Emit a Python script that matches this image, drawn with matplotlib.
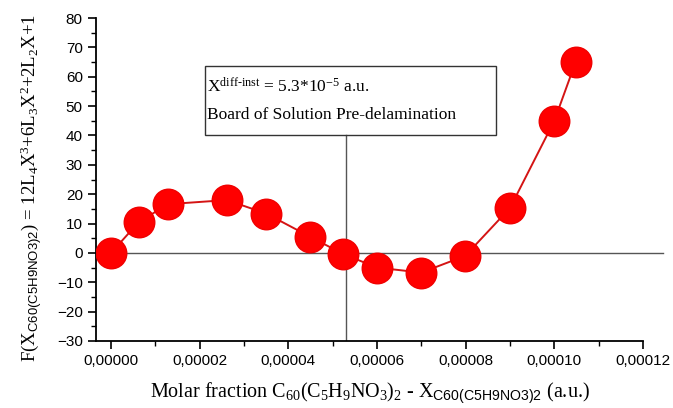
import matplotlib.pyplot as plt
from matplotlib.patches import Rectangle
from matplotlib.ticker import MultipleLocator, FuncFormatter

plt.rcParams['mathtext.fontset'] = 'custom'
plt.rcParams['mathtext.rm'] = 'Liberation Serif'
plt.rcParams['mathtext.it'] = 'Liberation Serif:italic'
plt.rcParams['mathtext.sf'] = 'Liberation Sans'
plt.rcParams['mathtext.bf'] = 'Liberation Serif:bold'

# molar fraction and F(X)
molar = [0.0, 6.3e-6, 1.29e-5, 2.61e-5, 3.5e-5, 4.49e-5, 5.24e-5,
         6.0e-5, 7.0e-5, 7.99e-5, 9.0e-5, 1.0e-4, 1.048e-4]
f_val = [0.0, 10.6, 16.6, 18.0, 13.4, 5.5, -0.4,
         -5.0, -6.7, -1.0, 15.3, 45.0, 65.0]

x_inst = 5.3e-5

fig = plt.figure(figsize=(6.73, 4.08), dpi=100)
ax = fig.add_axes([96 / 673, (408 - 341) / 408, (643 - 96) / 673, (341 - 18) / 408])

ax.plot(molar, f_val, '-', color='#d41414', lw=1.4, zorder=3)
ax.plot(molar, f_val, 'o', color='#ff0000', ms=22, mec='#f00000', zorder=4)

xmin, xmax = -3.4e-6, 0.00012
ax.set_xlim(xmin, xmax)
ax.set_ylim(-30, 80)

# zero line and instability line
ax.plot([xmin, 1.245e-4], [0, 0], color='#555555', lw=1, clip_on=False, zorder=2)
ax.plot([x_inst, x_inst], [-30, 40.3], color='#555555', lw=1, zorder=2)

# annotation box
ax.add_patch(Rectangle((2.12e-5, 40.3), 8.68e-5 - 2.12e-5, 63.8 - 40.3,
                       fill=False, ec='#333333', lw=1, zorder=5))
ax.text(2.17e-5, 56.5, r'X$^{\mathrm{diff\text{-}inst}}$ = 5.3*10$^{-5}$ a.u.',
        family='Liberation Serif', fontsize=12.5, va='center', zorder=6)
ax.text(2.17e-5, 47.0, 'Board of Solution Pre-delamination',
        family='Liberation Serif', fontsize=12.5, va='center', zorder=6)

for s in ['top', 'right']:
    ax.spines[s].set_visible(False)
ax.spines['left'].set_linewidth(1.3)
ax.spines['bottom'].set_linewidth(1.3)

ax.xaxis.set_major_locator(MultipleLocator(0.00002))
ax.xaxis.set_minor_locator(MultipleLocator(0.00001))
ax.yaxis.set_major_locator(MultipleLocator(10))
ax.yaxis.set_minor_locator(MultipleLocator(5))
ax.xaxis.set_major_formatter(FuncFormatter(lambda v, p: f'{v:.5f}'.replace('.', ',').replace('-', '')))
ax.tick_params(which='major', length=6, width=1.2, direction='out', labelsize=11)
ax.tick_params(which='minor', length=3.5, width=1.0, direction='out')
for lab in ax.get_xticklabels() + ax.get_yticklabels():
    lab.set_family('Liberation Sans')

ax.set_xlabel(r'Molar fraction C$_{60}$(C$_5$H$_9$NO$_3$)$_2$ - X$_{\mathsf{C60(C5H9NO3)2}}$ (a.u.)',
              family='Liberation Serif', fontsize=14.5, labelpad=9)
ax.set_ylabel(r'F(X$_{\mathsf{C60(C5H9NO3)2}}$) = 12L$_4$X$^3$+6L$_3$X$^2$+2L$_2$X+1',
              family='Liberation Serif', fontsize=13.5)
ax.yaxis.set_label_coords(-0.095, 0.475)

fig.savefig('out.png', dpi=100)
